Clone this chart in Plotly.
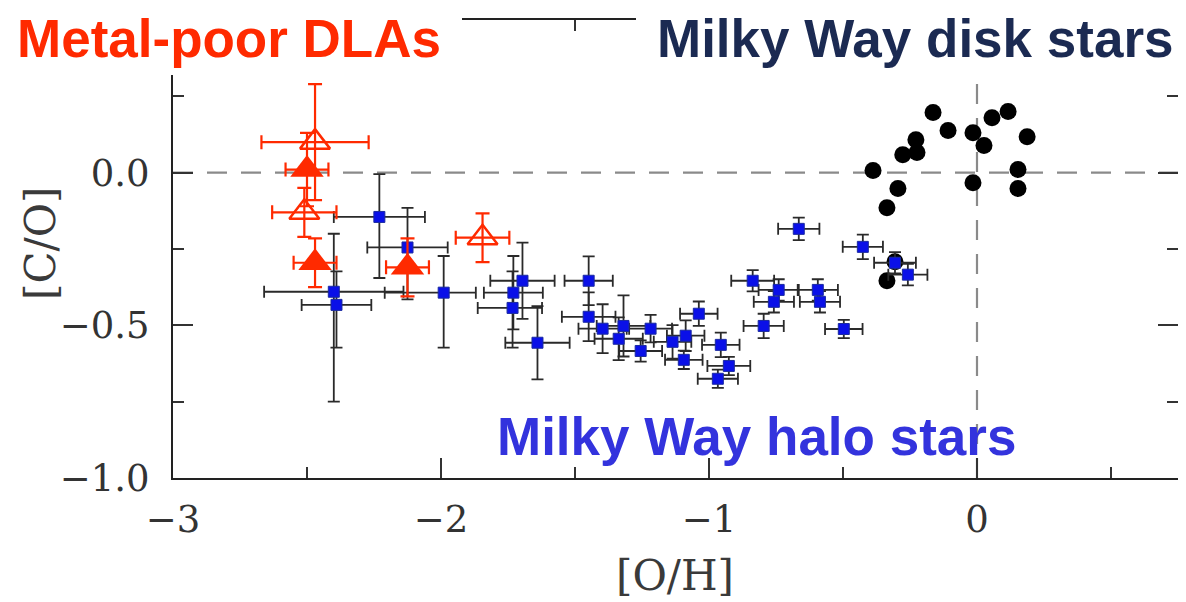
import plotly.graph_objects as go

# ---------------- data ----------------
# Milky Way halo stars: [O/H], [C/O], x-error (+/-), y-error plus, y-error minus
halo_oh = [-2.23, -2.125, -2.40, -2.39, -1.99, -1.696, -1.73, -1.733, -1.64,
           -1.449, -1.449, -1.397, -1.319, -1.337, -1.255, -1.218, -1.136, -1.087,
           -1.094, -1.038, -0.956, -0.926, -0.967, -0.837, -0.796, -0.665, -0.426,
           -0.306, -0.258, -0.74, -0.758, -0.594, -0.586, -0.497]
halo_co = [-0.145, -0.245, -0.39, -0.433, -0.393, -0.354, -0.393, -0.443, -0.557,
           -0.354, -0.472, -0.511, -0.502, -0.544, -0.584, -0.511, -0.554, -0.534,
           -0.613, -0.462, -0.564, -0.633, -0.675, -0.354, -0.502, -0.184, -0.243,
           -0.295, -0.334, -0.384, -0.423, -0.384, -0.423, -0.512]
halo_xerr_plus = [0.17, 0.15, 0.26, 0.13, 0.12, 0.12, 0.11, 0.11, 0.12,
                  0.09, 0.10, 0.09, 0.10, 0.09, 0.08, 0.08, 0.07, 0.07,
                  0.07, 0.07, 0.07, 0.08, 0.075, 0.08, 0.075, 0.077, 0.075,
                  0.078, 0.073, 0.075, 0.075, 0.075, 0.075, 0.07]
halo_xerr_minus = [0.17, 0.15, 0.26, 0.13, 0.22, 0.12, 0.11, 0.13, 0.12,
                   0.09, 0.10, 0.09, 0.10, 0.09, 0.08, 0.08, 0.07, 0.07,
                   0.07, 0.07, 0.07, 0.08, 0.075, 0.08, 0.075, 0.077, 0.075,
                   0.078, 0.073, 0.075, 0.075, 0.075, 0.075, 0.07]
halo_yerr_plus = [0.14, 0.13, 0.19, 0.11, 0.12, 0.125, 0.12, 0.12, 0.12,
                  0.08, 0.08, 0.08, 0.10, 0.07, 0.035, 0.045, 0.055, 0.05,
                  0.03, 0.04, 0.04, 0.03, 0.03, 0.035, 0.04, 0.037, 0.04,
                  0.035, 0.035, 0.035, 0.035, 0.035, 0.035, 0.03]
halo_yerr_minus = [0.20, 0.17, 0.36, 0.14, 0.18, 0.125, 0.12, 0.13, 0.12,
                   0.08, 0.08, 0.08, 0.10, 0.07, 0.035, 0.045, 0.055, 0.05,
                   0.03, 0.04, 0.04, 0.03, 0.03, 0.035, 0.04, 0.037, 0.04,
                   0.035, 0.035, 0.035, 0.035, 0.035, 0.035, 0.03]

# Metal-poor DLAs (open = hollow triangles, filled = solid triangles)
dla_open_oh = [-2.47, -2.51, -1.845]
dla_open_co = [0.10, -0.13, -0.213]
dla_open_xerr = [0.20, 0.12, 0.10]
dla_open_yerr = [0.19, 0.08, 0.08]

dla_fill_oh = [-2.50, -2.47, -2.125]
dla_fill_co = [0.01, -0.295, -0.31]
dla_fill_xerr = [0.08, 0.08, 0.08]
dla_fill_yerr = [0.12, 0.08, 0.095]

# Milky Way disk stars
disk_oh = [-0.388, -0.295, -0.336, -0.277, -0.228, -0.224, -0.164, -0.108, -0.015,
           0.026, -0.015, 0.056, 0.116, 0.187, 0.153, 0.153, -0.336, -0.306]
disk_co = [0.007, -0.052, -0.115, 0.059, 0.108, 0.066, 0.197, 0.138, 0.131,
           0.089, -0.033, 0.18, 0.20, 0.118, 0.01, -0.052, -0.354, -0.292]

x_ticks = [-3, -2, -1, 0]
x_ticktext = ["\u22123", "\u22122", "\u22121", "0"]
y_ticks = [-1.0, -0.5, 0.0]
y_ticktext = ["\u22121.0", "\u22120.5", "0.0"]

X_RANGE = [-3, 0.75]
Y_RANGE = [-1.0, 0.5]

RED = "#ff2a00"
ERR = "#2a2a2a"

# page body has an 8px default margin: plot area in screen px is
# left 173, right 1178, top 20, bottom 478
OFF = 8
PL, PR, PT, PB = 173, 1178, 20, 478
PW, PH = PR - PL, PB - PT


def px(xp):
    return (xp - PL) / PW


def py(yp):
    return (PB - yp) / PH


fig = go.Figure()

# disk stars
fig.add_trace(go.Scatter(
    x=disk_oh, y=disk_co, mode="markers",
    marker=dict(symbol="circle", size=17, color="#000000"),
    showlegend=False, hoverinfo="skip"))

# halo stars
fig.add_trace(go.Scatter(
    x=halo_oh, y=halo_co, mode="markers",
    marker=dict(symbol="square", size=11, color="#0a10e8",
                line=dict(color="#1a2aa0", width=1)),
    error_x=dict(type="data", array=halo_xerr_plus, arrayminus=halo_xerr_minus,
                 symmetric=False, color=ERR, thickness=1.8, width=6),
    error_y=dict(type="data", array=halo_yerr_plus, arrayminus=halo_yerr_minus,
                 symmetric=False, color=ERR, thickness=1.8, width=6),
    showlegend=False, hoverinfo="skip"))

# DLAs open
fig.add_trace(go.Scatter(
    x=dla_open_oh, y=dla_open_co, mode="markers",
    marker=dict(symbol="triangle-up-open", size=26, color=RED,
                line=dict(color=RED, width=2.5)),
    error_x=dict(type="data", array=dla_open_xerr, color=RED, thickness=2.2, width=7),
    error_y=dict(type="data", array=dla_open_yerr, color=RED, thickness=2.2, width=7),
    showlegend=False, hoverinfo="skip"))

# DLAs filled
fig.add_trace(go.Scatter(
    x=dla_fill_oh, y=dla_fill_co, mode="markers",
    marker=dict(symbol="triangle-up", size=29, color=RED, line=dict(width=0)),
    error_x=dict(type="data", array=dla_fill_xerr, color=RED, thickness=2.2, width=7),
    error_y=dict(type="data", array=dla_fill_yerr, color=RED, thickness=2.2, width=7),
    showlegend=False, hoverinfo="skip"))

# dashed reference lines
fig.add_shape(type="line", xref="x", yref="y", x0=X_RANGE[0], x1=X_RANGE[1], y0=0, y1=0,
              line=dict(color="#8a8a8a", width=2.2, dash="20px,14px"), layer="below")
fig.add_shape(type="line", xref="x", yref="y", x0=0, x1=0, y0=Y_RANGE[0], y1=Y_RANGE[1],
              line=dict(color="#8a8a8a", width=2.2, dash="20px,14px"), layer="below")

# white boxes behind the top labels
fig.add_shape(type="rect", xref="paper", yref="paper", x0=px(-20), x1=px(462),
              y0=py(75), y1=py(-20), fillcolor="white", line=dict(width=0), layer="above")
fig.add_shape(type="rect", xref="paper", yref="paper", x0=px(636), x1=px(1200),
              y0=py(77), y1=py(-20), fillcolor="white", line=dict(width=0), layer="above")

TF = "Liberation Sans"
fig.add_annotation(text="<b>Metal-poor DLAs</b>", xref="paper", yref="paper",
                   x=px(229), y=py(38.5), xanchor="center", yanchor="middle",
                   showarrow=False, font=dict(family=TF, size=53, color=RED))
fig.add_annotation(text="<b>Milky Way disk stars</b>", xref="paper", yref="paper",
                   x=px(915), y=py(38.5), xanchor="center", yanchor="middle",
                   showarrow=False, font=dict(family=TF, size=53, color="#1b2a52"))
fig.add_annotation(text="<b>Milky Way halo stars</b>", xref="paper", yref="paper",
                   x=px(756), y=py(436), xanchor="center", yanchor="middle",
                   showarrow=False, font=dict(family=TF, size=53, color="#3333dd"))

LF = "DejaVu Serif"
fig.add_annotation(text="[O/H]", xref="paper", yref="paper",
                   x=px(675), y=py(575), xanchor="center", yanchor="middle",
                   showarrow=False, font=dict(family=LF, size=42, color="#3a3a3a"))
fig.add_annotation(text="[C/O]", xref="paper", yref="paper", textangle=-90,
                   x=px(40), y=py(243), xanchor="center", yanchor="middle",
                   showarrow=False, font=dict(family=LF, size=42, color="#3a3a3a"))

axis_common = dict(showline=True, linewidth=2, linecolor="#222222", mirror="allticks",
                   ticks="inside", ticklen=20, tickwidth=2, tickcolor="#333333",
                   showgrid=False, zeroline=False,
                   tickfont=dict(family=LF, size=37, color="#333333"))

fig.update_xaxes(range=X_RANGE, tickvals=x_ticks, ticktext=x_ticktext,
                 minor=dict(tickvals=[-2.5, -1.5, -0.5, 0.5], ticks="inside", ticklen=11,
                            tickwidth=2, tickcolor="#333333"),
                 ticklabelstandoff=8, **axis_common)
fig.update_yaxes(range=Y_RANGE, tickvals=y_ticks, ticktext=y_ticktext,
                 minor=dict(tickvals=[0.25, -0.25, -0.75], ticks="inside", ticklen=11,
                            tickwidth=2, tickcolor="#333333"),
                 ticklabelstandoff=14, **axis_common)

W, H = 1186 - OFF, 602 - OFF
fig.update_layout(width=W, height=H,
                  margin=dict(l=PL - OFF, r=W + OFF - PR, t=PT - OFF, b=H + OFF - PB,
                              autoexpand=False),
                  plot_bgcolor="white", paper_bgcolor="white", showlegend=False)

fig.write_html("out.html")
